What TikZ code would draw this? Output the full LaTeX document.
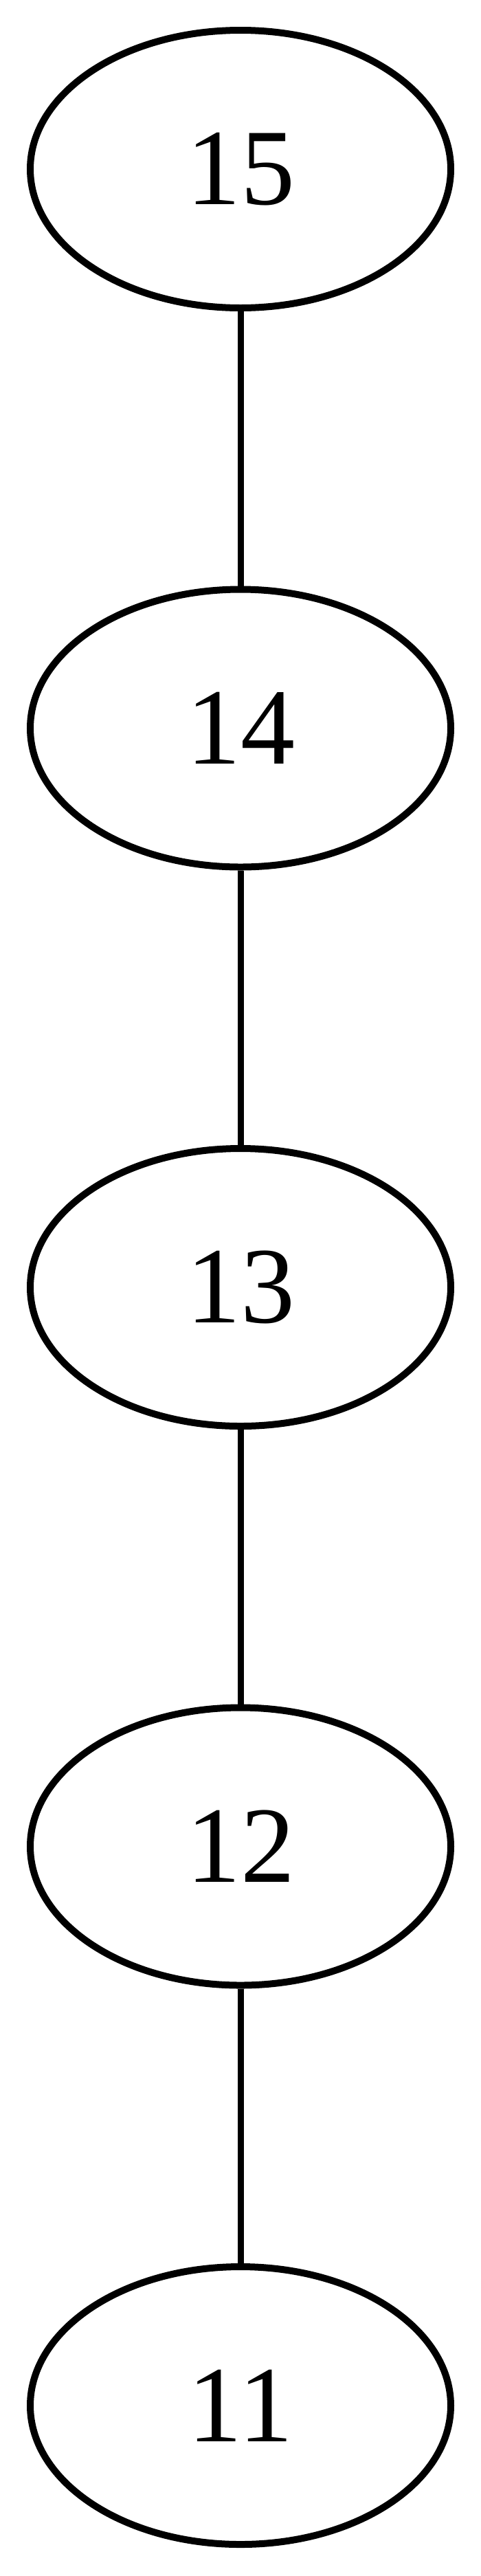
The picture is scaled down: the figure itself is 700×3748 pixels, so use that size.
\documentclass[tikz,border=0pt]{standalone}
\usepackage{fontspec}
\setmainfont{Liberation Serif}
\usetikzlibrary{shapes.geometric}
\tikzset{vertex/.style={draw,ellipse,line width=10pt,minimum width=612pt,minimum height=404pt,inner sep=0pt,font=\fontsize{158}{160}\selectfont}}

\begin{document}
\begin{tikzpicture}[x=1pt,y=1pt]
    \useasboundingbox(0,0)rectangle(700,-3748);
    \node[vertex](n15)at(350,-246){15};
    \node[vertex](n14)at(350,-1059.5){14};
    \node[vertex](n13)at(350,-1873){13};
    \node[vertex](n12)at(350,-2686.5){12};
    \node[vertex](n11)at(350,-3500){11};
    \draw[line width=9pt](n15)--(n14);
    \draw[line width=9pt](n14)--(n13);
    \draw[line width=9pt](n13)--(n12);
    \draw[line width=9pt](n12)--(n11);
  \end{tikzpicture}
\end{document}
